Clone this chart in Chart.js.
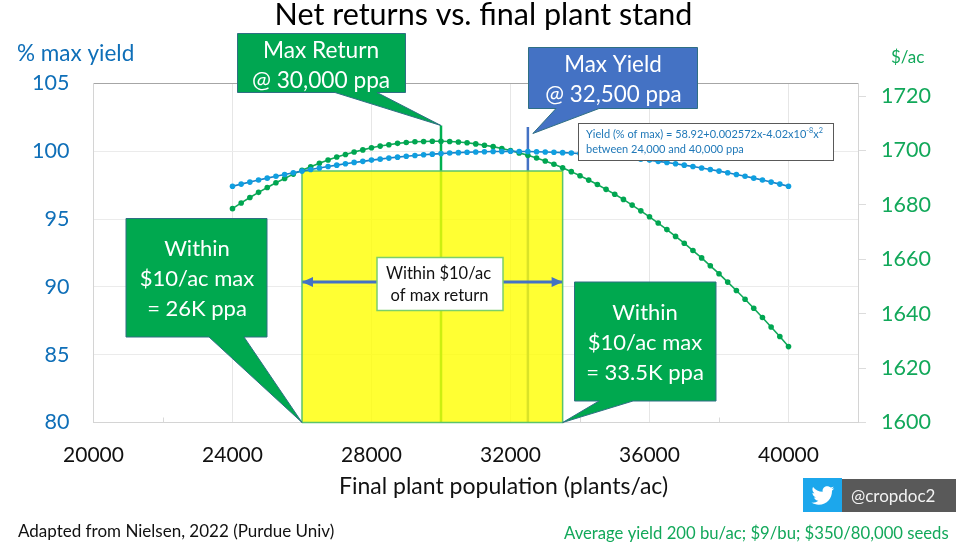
<!DOCTYPE html>
<html>
<head>
<meta charset="utf-8">
<title>Net returns vs. final plant stand</title>
<script src="https://cdn.jsdelivr.net/npm/chart.js@4/dist/chart.umd.min.js"></script>
<style>
html,body{margin:0;padding:0;background:#fff}
canvas{display:block}
</style>
</head>
<body>
<canvas id="chart" width="973" height="545"></canvas>
<script>
// Plant stand sampled every 250 plants/ac
const plantStand = [
  24000,24250,24500,24750,25000,25250,25500,25750,26000,26250,26500,26750,27000,
  27250,27500,27750,28000,28250,28500,28750,29000,29250,29500,29750,30000,30250,
  30500,30750,31000,31250,31500,31750,32000,32250,32500,32750,33000,33250,33500,
  33750,34000,34250,34500,34750,35000,35250,35500,35750,36000,36250,36500,36750,
  37000,37250,37500,37750,38000,38250,38500,38750,39000,39250,39500,39750,40000
];
// Yield, % of maximum
const yieldPct = [
  97.42,97.58,97.73,97.88,98.02,98.16,98.29,98.42,98.54,98.66,98.77,98.88,98.98,
  99.08,99.18,99.26,99.35,99.42,99.50,99.57,99.63,99.69,99.75,99.79,99.83,99.87,
  99.90,99.93,99.95,99.97,99.99,99.99,100.00,99.99,99.99,99.97,99.95,99.93,99.90,
  99.87,99.83,99.79,99.74,99.69,99.63,99.57,99.50,99.42,99.35,99.26,99.18,99.08,
  98.98,98.88,98.77,98.66,98.54,98.42,98.29,98.16,98.02,97.88,97.73,97.58,97.42
];
// Net return, $/ac
const netReturn = [
  1678.6,1680.7,1682.7,1684.6,1686.4,1688.1,1689.7,1691.3,1692.7,1694.0,1695.3,1696.5,1697.6,
  1698.5,1699.4,1700.2,1701.0,1701.6,1702.1,1702.6,1702.9,1703.2,1703.3,1703.4,1703.4,1703.3,
  1703.1,1702.8,1702.4,1701.9,1701.4,1700.7,1700.0,1699.1,1698.2,1697.2,1696.1,1694.9,1693.6,
  1692.2,1690.7,1689.1,1687.5,1685.7,1683.9,1682.0,1679.9,1677.8,1675.6,1673.3,1670.9,1668.4,
  1665.9,1663.2,1660.5,1657.6,1654.7,1651.6,1648.5,1645.3,1642.0,1638.6,1635.1,1631.6,1627.9
];
const maxReturnStand = 30000;
const maxYieldStand = 32500;
const bandLow = 26000;
const bandHigh = 33500;
const bandTopYield = 98.55;
const bandArrowYield = 90.36;
const markerTopReturn = 101.9;
const markerTopYield = 101.8;

const FONT = 'Lato, Carlito, sans-serif';
const GREEN = '#00a651';
const BLUE = '#4472c4';
const twitterBird = new Path2D('M23.954 4.569c-.885.389-1.83.654-2.825.775 1.014-.611 1.794-1.574 2.163-2.723-.951.555-2.005.959-3.127 1.184-.896-.959-2.173-1.559-3.591-1.559-2.717 0-4.92 2.203-4.92 4.917 0 .39.045.765.127 1.124C7.691 8.094 4.066 6.13 1.64 3.161c-.427.722-.666 1.561-.666 2.475 0 1.71.87 3.213 2.188 4.096-.807-.026-1.566-.248-2.228-.616v.061c0 2.385 1.693 4.374 3.946 4.827-.413.111-.849.171-1.296.171-.314 0-.615-.03-.916-.086.631 1.953 2.445 3.377 4.604 3.417-1.68 1.319-3.809 2.105-6.102 2.105-.39 0-.779-.023-1.17-.067 2.189 1.394 4.768 2.209 7.557 2.209 9.054 0 13.999-7.496 13.999-13.986 0-.209 0-.42-.015-.63.961-.689 1.8-1.56 2.46-2.548l-.047-.02z');

function text(ctx, str, x, y, size, color, align) {
  ctx.font = size + 'px ' + FONT;
  ctx.fillStyle = color;
  ctx.textAlign = align || 'left';
  ctx.textBaseline = 'middle';
  ctx.fillText(str, x, y);
}

// Rectangle with a pointed tail whose tip sits at a data position
function callout(ctx, box, tail, tip, fill, lines, size) {
  ctx.beginPath();
  ctx.moveTo(box.x, box.y);
  ctx.lineTo(box.x + box.w, box.y);
  ctx.lineTo(box.x + box.w, box.y + box.h);
  ctx.lineTo(tail[1], box.y + box.h);
  ctx.lineTo(tip.x, tip.y);
  ctx.lineTo(tail[0], box.y + box.h);
  ctx.lineTo(box.x, box.y + box.h);
  ctx.closePath();
  ctx.fillStyle = fill;
  ctx.fill();
  ctx.lineWidth = 1;
  ctx.strokeStyle = '#2f6f83';
  ctx.stroke();
  lines.forEach(l => text(ctx, l.t, l.x, l.y, size, '#fff', 'center'));
}

function arrowHead(ctx, tipX, y, dir) {
  ctx.beginPath();
  ctx.moveTo(tipX, y);
  ctx.lineTo(tipX - dir * 11, y - 5);
  ctx.lineTo(tipX - dir * 11, y + 5);
  ctx.closePath();
  ctx.fillStyle = BLUE;
  ctx.fill();
}

const annotations = {
  id: 'annotations',
  afterLayout(chart) {
    // Title sits slightly left of the page centre
    chart.titleBlock.left = 0;
    chart.titleBlock.right = 967;
  },
  beforeDatasetsDraw(chart) {
    const {ctx, scales: {x, y}} = chart;
    // Short inward marks at the unlabelled x positions
    ctx.save();
    ctx.strokeStyle = '#d9d9d9';
    ctx.lineWidth = 1;
    x.ticks.forEach(t => {
      if (t.value % 4000 !== 0 && t.value < x.max) {
        const px = Math.round(x.getPixelForValue(t.value)) + 0.5;
        ctx.beginPath();
        ctx.moveTo(px, y.bottom);
        ctx.lineTo(px, y.bottom - 5);
        ctx.stroke();
      }
    });
    ctx.restore();
  },
  afterDatasetsDraw(chart) {
    const {ctx, scales: {x, y}} = chart;
    ctx.save();

    // Band arrowheads and label
    const ay = y.getPixelForValue(bandArrowYield);
    arrowHead(ctx, x.getPixelForValue(bandHigh), ay, 1);
    arrowHead(ctx, x.getPixelForValue(bandLow), ay, -1);
    ctx.fillStyle = '#fff';
    ctx.fillRect(377, 257.5, 126, 53);
    ctx.strokeStyle = '#7ccf6a';
    ctx.lineWidth = 1.5;
    ctx.strokeRect(377, 257.5, 126, 53);
    text(ctx, 'Within $10/ac', 438.5, 273.5, 16.5, '#111', 'center');
    text(ctx, 'of max return', 439.5, 295.5, 16.5, '#111', 'center');

    // Callouts
    callout(ctx, {x: 237.5, y: 33.5, w: 168, h: 59},
      [335, 377], {x: x.getPixelForValue(maxReturnStand), y: y.getPixelForValue(markerTopReturn)}, GREEN,
      [{t: 'Max Return', x: 321, y: 50.5}, {t: '@ 30,000 ppa', x: 321, y: 80.5}], 22.7);
    callout(ctx, {x: 528.5, y: 47.5, w: 169, h: 61},
      [556, 599], {x: x.getPixelForValue(maxYieldStand) + 5, y: 133.5}, BLUE,
      [{t: 'Max Yield', x: 613, y: 65}, {t: '@ 32,500 ppa', x: 613.5, y: 95}], 22.4);
    callout(ctx, {x: 126, y: 218.5, w: 141, h: 118.5},
      [209, 244], {x: x.getPixelForValue(bandLow), y: y.getPixelForValue(80)}, '#00a84f',
      [{t: 'Within', x: 197, y: 249}, {t: '$10/ac max', x: 197, y: 279}, {t: '= 26K ppa', x: 197, y: 309}], 22);
    callout(ctx, {x: 574.5, y: 282, w: 141.5, h: 119},
      [599, 633], {x: x.getPixelForValue(bandHigh), y: y.getPixelForValue(80)}, '#00a84f',
      [{t: 'Within', x: 645, y: 313}, {t: '$10/ac max', x: 645, y: 343}, {t: '= 33.5K ppa', x: 645, y: 373}], 22);

    // Yield equation box
    ctx.fillStyle = '#fff';
    ctx.fillRect(578.5, 123.5, 255, 37);
    ctx.strokeStyle = '#595959';
    ctx.lineWidth = 1;
    ctx.strokeRect(578.5, 123.5, 255, 37);
    const eqBlue = '#1f78b8';
    let ex = 586;
    [['Yield (% of max) = 58.92+0.002572x-4.02x10', 134.5, 11],
     ['-8', 131, 7.3], ['x', 134.5, 11], ['2', 131, 7.3]].forEach(([s, yy, size]) => {
      text(ctx, s, ex, yy, size, eqBlue, 'left');
      ex += ctx.measureText(s).width;
    });
    text(ctx, 'between 24,000 and 40,000 ppa', 586, 149.5, 11, eqBlue, 'left');

    // Page text outside the plot
    text(ctx, '% max yield', 17, 54, 22.5, '#0f6fb8', 'left');
    text(ctx, '$/ac', 891, 57.5, 17, '#12a85a', 'left');
    text(ctx, 'Final plant population (plants/ac)', 503.5, 487, 23, '#111', 'center');
    text(ctx, 'Adapted from Nielsen, 2022 (Purdue Univ)', 18, 532, 17, '#111', 'left');
    text(ctx, 'Average yield 200 bu/ac; $9/bu; $350/80,000 seeds', 564, 534, 16.7, '#12a85a', 'left');

    // Handle badge
    ctx.fillStyle = '#595959';
    ctx.fillRect(842, 479, 114, 33);
    ctx.fillStyle = '#1ca7ec';
    ctx.fillRect(803, 478, 39, 34);
    ctx.save();
    ctx.translate(811.5, 484);
    ctx.scale(0.95, 0.95);
    ctx.fillStyle = '#fff';
    ctx.fill(twitterBird);
    ctx.restore();
    text(ctx, '@cropdoc2', 851, 497, 17, '#f2f2f2', 'left');

    ctx.restore();
  }
};

new Chart(document.getElementById('chart'), {
  type: 'line',
  plugins: [annotations],
  data: {
    datasets: [
      {
        label: 'Yield',
        data: plantStand.map((v, i) => ({x: v, y: yieldPct[i]})),
        yAxisID: 'y', order: 0,
        borderColor: '#1c7fc4', borderWidth: 1.6,
        pointBackgroundColor: '#0f9fe0', pointBorderColor: '#0f9fe0', pointRadius: 2.8, pointBorderWidth: 0
      },
      {
        label: 'Net return',
        data: plantStand.map((v, i) => ({x: v, y: netReturn[i]})),
        yAxisID: 'y2', order: 0,
        borderColor: '#12a85a', borderWidth: 1.6,
        pointBackgroundColor: GREEN, pointBorderColor: GREEN, pointRadius: 2.8, pointBorderWidth: 0
      },
      {
        label: 'Within $10/ac band',
        data: [{x: bandLow, y: bandTopYield}, {x: bandHigh, y: bandTopYield}],
        yAxisID: 'y', order: 1,
        fill: 'start', backgroundColor: 'rgba(255,255,0,0.8)',
        borderWidth: 0, pointRadius: 0
      },
      {
        label: 'Band outline',
        data: [
          {x: bandLow, y: 80}, {x: bandLow, y: bandTopYield},
          {x: bandHigh, y: bandTopYield}, {x: bandHigh, y: 80}, {x: bandLow, y: 80}
        ],
        yAxisID: 'y', order: 0,
        borderColor: '#5cc46a', borderWidth: 1.5, pointRadius: 0, clip: false
      },
      {
        label: 'Band arrow',
        data: [{x: bandLow, y: bandArrowYield}, {x: bandHigh, y: bandArrowYield}],
        yAxisID: 'y', order: 0,
        borderColor: BLUE, borderWidth: 3, pointRadius: 0
      },
      {
        label: 'Max return',
        data: [{x: maxReturnStand, y: 80}, {x: maxReturnStand, y: markerTopReturn}],
        yAxisID: 'y', order: 2,
        borderColor: '#00b050', borderWidth: 2.5, pointRadius: 0
      },
      {
        label: 'Max yield',
        data: [{x: maxYieldStand, y: 80}, {x: maxYieldStand, y: markerTopYield}],
        yAxisID: 'y', order: 2,
        borderColor: BLUE, borderWidth: 2.5, pointRadius: 0
      }
    ]
  },
  options: {
    responsive: false,
    animation: false,
    events: [],
    layout: {padding: 0},
    elements: {line: {tension: 0}},
    plugins: {
      legend: {display: false},
      tooltip: {enabled: false},
      title: {
        display: true,
        text: 'Net returns vs. final plant stand',
        color: '#000',
        font: {family: FONT, size: 30.5, weight: 'normal', lineHeight: 1.2},
        padding: {top: -3.3, bottom: 50.2}
      }
    },
    scales: {
      x: {
        type: 'linear', min: 20000, max: 42000,
        afterFit(s) { s.height = 122.5; },
        border: {color: '#d4d4d4'},
        grid: {
          drawTicks: false,
          color: c => (c.tick && c.tick.value % 4000 === 0) ? '#e6e6e6' : 'rgba(0,0,0,0)'
        },
        ticks: {
          stepSize: 2000, autoSkip: false, maxRotation: 0, padding: 20,
          color: '#111', font: {family: FONT, size: 21},
          callback: v => v % 4000 === 0 ? String(v) : ''
        }
      },
      y: {
        position: 'left', min: 80, max: 105,
        afterFit(s) { s.width = 93.5; },
        border: {color: '#d4d4d4'},
        grid: {
          drawTicks: false,
          color: c => c.tick.value === 105 ? '#a6a6a6' : (c.tick.value === 80 ? '#d4d4d4' : '#ebebeb')
        },
        ticks: {stepSize: 5, padding: 24, color: '#0f6fb8', font: {family: FONT, size: 21.5}}
      },
      y2: {
        position: 'right', min: 1600, max: 1724.6,
        afterFit(s) { s.width = 115; },
        border: {color: '#d4d4d4'},
        grid: {drawOnChartArea: false, tickLength: 8, tickColor: '#dcdcdc'},
        ticks: {
          stepSize: 20, includeBounds: false, padding: 15,
          color: '#12a85a', font: {family: FONT, size: 21.5},
          callback: v => String(v)
        }
      }
    }
  }
});
</script>
</body>
</html>
